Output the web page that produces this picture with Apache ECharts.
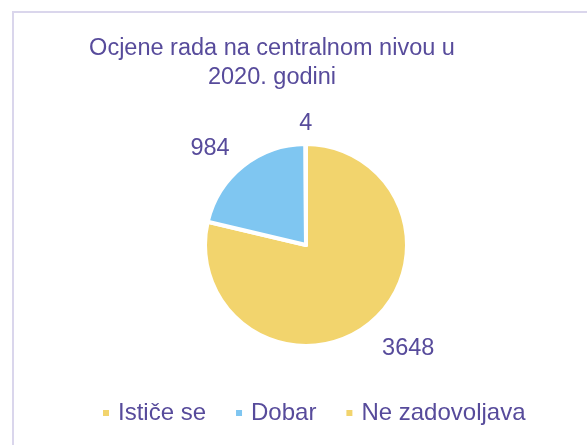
<!DOCTYPE html>
<html>
<head>
<meta charset="utf-8">
<script src="https://cdn.jsdelivr.net/npm/echarts@6/dist/echarts.min.js"></script>
<style>
html,body{margin:0;padding:0;background:#fff;}
#c{width:587px;height:445px;}
</style>
</head>
<body>
<div id="c"></div>
<script>
const titleText = 'Ocjene rada na centralnom nivou u\n2020. godini';
const categories = ['Ističe se', 'Dobar', 'Ne zadovoljava'];
const values = [3648, 984, 4];
const colors = ['#F2D46D', '#7FC6F1', '#F2D46D'];

const textColor = '#574B9B';
const font = 'Liberation Sans';

const chart = echarts.init(document.getElementById('c'), null, {renderer: 'canvas'});
chart.setOption({
  backgroundColor: '#ffffff',
  animation: false,
  graphic: [{
    type: 'rect',
    shape: {x: 13, y: 12, width: 600, height: 460},
    style: {fill: 'none', stroke: '#DAD6EC', lineWidth: 2},
    silent: true
  }],
  title: {
    text: titleText,
    left: 267,
    top: 29,
    textAlign: 'center',
    textStyle: {
      fontFamily: font,
      fontSize: 23.5,
      fontWeight: 'normal',
      color: textColor,
      lineHeight: 29
    }
  },
  legend: {
    bottom: 15,
    left: 96,
    icon: 'rect',
    itemWidth: 8,
    itemHeight: 8,
    itemGap: 28,
    formatter: '{t|{name}}',
    textStyle: {
      fontFamily: font, fontSize: 23.5, color: textColor,
      rich: {t: {fontFamily: font, fontSize: 24, color: textColor, padding: [0, 0, 0, 3]}}
    },
    data: categories
  },
  series: [{
    type: 'pie',
    center: [306, 245],
    radius: 101,
    startAngle: 90,
    clockwise: true,
    data: categories.map((c, i) => ({name: c, value: values[i], itemStyle: {color: colors[i]}})),
    itemStyle: {borderColor: '#ffffff', borderWidth: 4},
    label: {
      show: true,
      position: 'outside',
      formatter: '{c}',
      fontFamily: font,
      fontSize: 23.5,
      color: textColor
    },
    labelLine: {show: false, length: 20, length2: 0},
    labelLayout: function (p) {
      if (p.dataIndex === 0) return {dx: -4, dy: 9};
      if (p.dataIndex === 1) return {dx: 4, dy: -2};
      if (p.dataIndex === 2) return {align: 'center', dx: 5};
      return {};
    },
    emphasis: {disabled: true}
  }]
});
</script>
</body>
</html>
